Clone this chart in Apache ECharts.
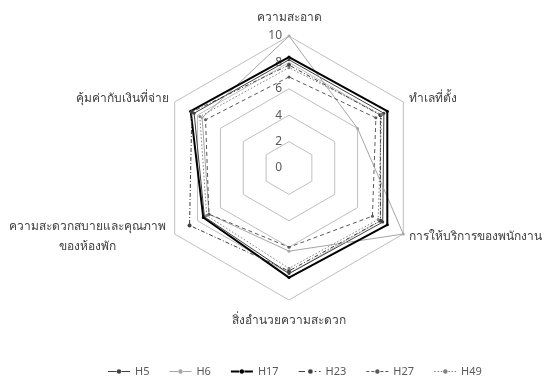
<!DOCTYPE html>
<html><head><meta charset="utf-8">
<script src="https://cdn.jsdelivr.net/npm/echarts@6/dist/echarts.min.js"></script>
<style>html,body{margin:0;padding:0;background:#fff}#c{width:547px;height:376px}</style>
</head><body><div id="c"></div>
<script>
// indicator order: top, then counter-clockwise
const categories = ['ความสะอาด','คุ้มค่ากับเงินที่จ่าย','ความสะดวกสบายและคุณภาพ\nของห้องพัก','สิ่งอำนวยความสะดวก','การให้บริการของพนักงาน','ทำเลที่ตั้ง'];
const seriesNames = ['H5','H6','H17','H23','H27','H49'];
const H5  = [8.2, 8.3, 7.4, 8.0, 8.2, 8.3];
const H6  = [10, 7.6, 7.0, 6.3, 10, 6.0];
const H17 = [8.4, 8.6, 7.5, 8.3, 8.6, 8.6];
const H23 = [7.8, 8.5, 8.7, 7.8, 8.0, 8.0];
const H27 = [6.9, 7.3, 7.0, 6.0, 7.3, 7.6];
const H49 = [7.6, 7.8, 7.2, 7.6, 7.8, 8.1];
const seriesValues = [H5, H6, H17, H23, H27, H49];
const axisMin = 0, axisMax = 10, axisInterval = 2;

const DOT = 'M11,3m-2.2,0a2.2,2.2 0 1,0 4.4,0a2.2,2.2 0 1,0 -4.4,0z';
const icons = [
  'path://M0,2.5h8.5v1h-8.5z' + DOT + 'M13.5,2.5h8.5v1h-8.5z',
  'path://M0,2.5h8.5v1h-8.5z' + DOT + 'M13.5,2.5h8.5v1h-8.5z',
  'path://M0,2h8.5v2h-8.5z' + DOT + 'M13.5,2h8.5v2h-8.5z',
  'path://M0,2.5h6v1h-6z' + DOT + 'M15,2.5h1.5v1h-1.5zM19,2.5h1.5v1h-1.5z',
  'path://M0,2.5h3v1h-3zM5,2.5h3v1h-3z' + DOT + 'M14,2.5h3v1h-3zM19,2.5h3v1h-3z',
  'path://M0,2.5h1.5v1h-1.5zM3.5,2.5h1.5v1h-1.5zM6.5,2.5h1.5v1h-1.5z' + DOT + 'M14,2.5h1.5v1h-1.5zM17,2.5h1.5v1h-1.5zM20,2.5h1.5v1h-1.5z'
];
const styles = [
  {color:'#404040', width:1, type:'solid', size:3},
  {color:'#a6a6a6', width:1, type:'solid', size:3},
  {color:'#000000', width:2, type:'solid', size:3},
  {color:'#404040', width:1, type:[4,2,1,2], size:4},
  {color:'#595959', width:1, type:[4,3], size:3},
  {color:'#808080', width:1, type:[1.5,2], size:3}
];
const FONT = '"Noto Sans", "DejaVu Sans", sans-serif';

const chart = echarts.init(document.getElementById('c'), null, {renderer:'canvas'});
chart.setOption({
  animation:false,
  backgroundColor:'#fff',
  legend:{
    top:361, left:103, itemWidth:22, itemHeight:6, itemGap:20,
    textStyle:{color:'#595959', fontSize:11, fontFamily:FONT},
    data: seriesNames.map((n,i)=>({name:n, icon:icons[i]}))
  },
  radar:{
    center:[289,168], radius:132, startAngle:90, shape:'polygon',
    splitNumber:(axisMax-axisMin)/axisInterval,
    axisName:{
      color:'#404040', fontSize:12, fontFamily:FONT,
      formatter:function(v){
        if(v.indexOf('\n')>=0){
          return v.split('\n').map(s=>'{c|'+s+'}').join('\n');
        }
        return v;
      },
      rich:{c:{width:164, align:'center', fontSize:12, lineHeight:20, color:'#404040', fontFamily:FONT}}
    },
    nameGap:6,
    splitLine:{lineStyle:{color:'#bfbfbf', width:1}},
    splitArea:{show:false},
    axisLine:{show:false},
    axisTick:{show:false},
    axisLabel:{show:false},
    indicator: categories.map((c,i)=>{
      const o = {name:c, min:axisMin, max:axisMax};
      if(i===0){
        o.axisLabel = {show:true, color:'#595959', fontSize:12, fontFamily:FONT, margin:7};
        o.nameGap = 12;
      }
      if(i===3) o.nameGap = 15;
      return o;
    })
  },
  series:[{
    type:'radar',
    data: seriesNames.map((n,i)=>({
      name:n, value:seriesValues[i],
      symbol:'circle', symbolSize:styles[i].size,
      lineStyle:{color:styles[i].color, width:styles[i].width, type:styles[i].type},
      itemStyle:{color:styles[i].color}
    }))
  }]
});
</script></body></html>
